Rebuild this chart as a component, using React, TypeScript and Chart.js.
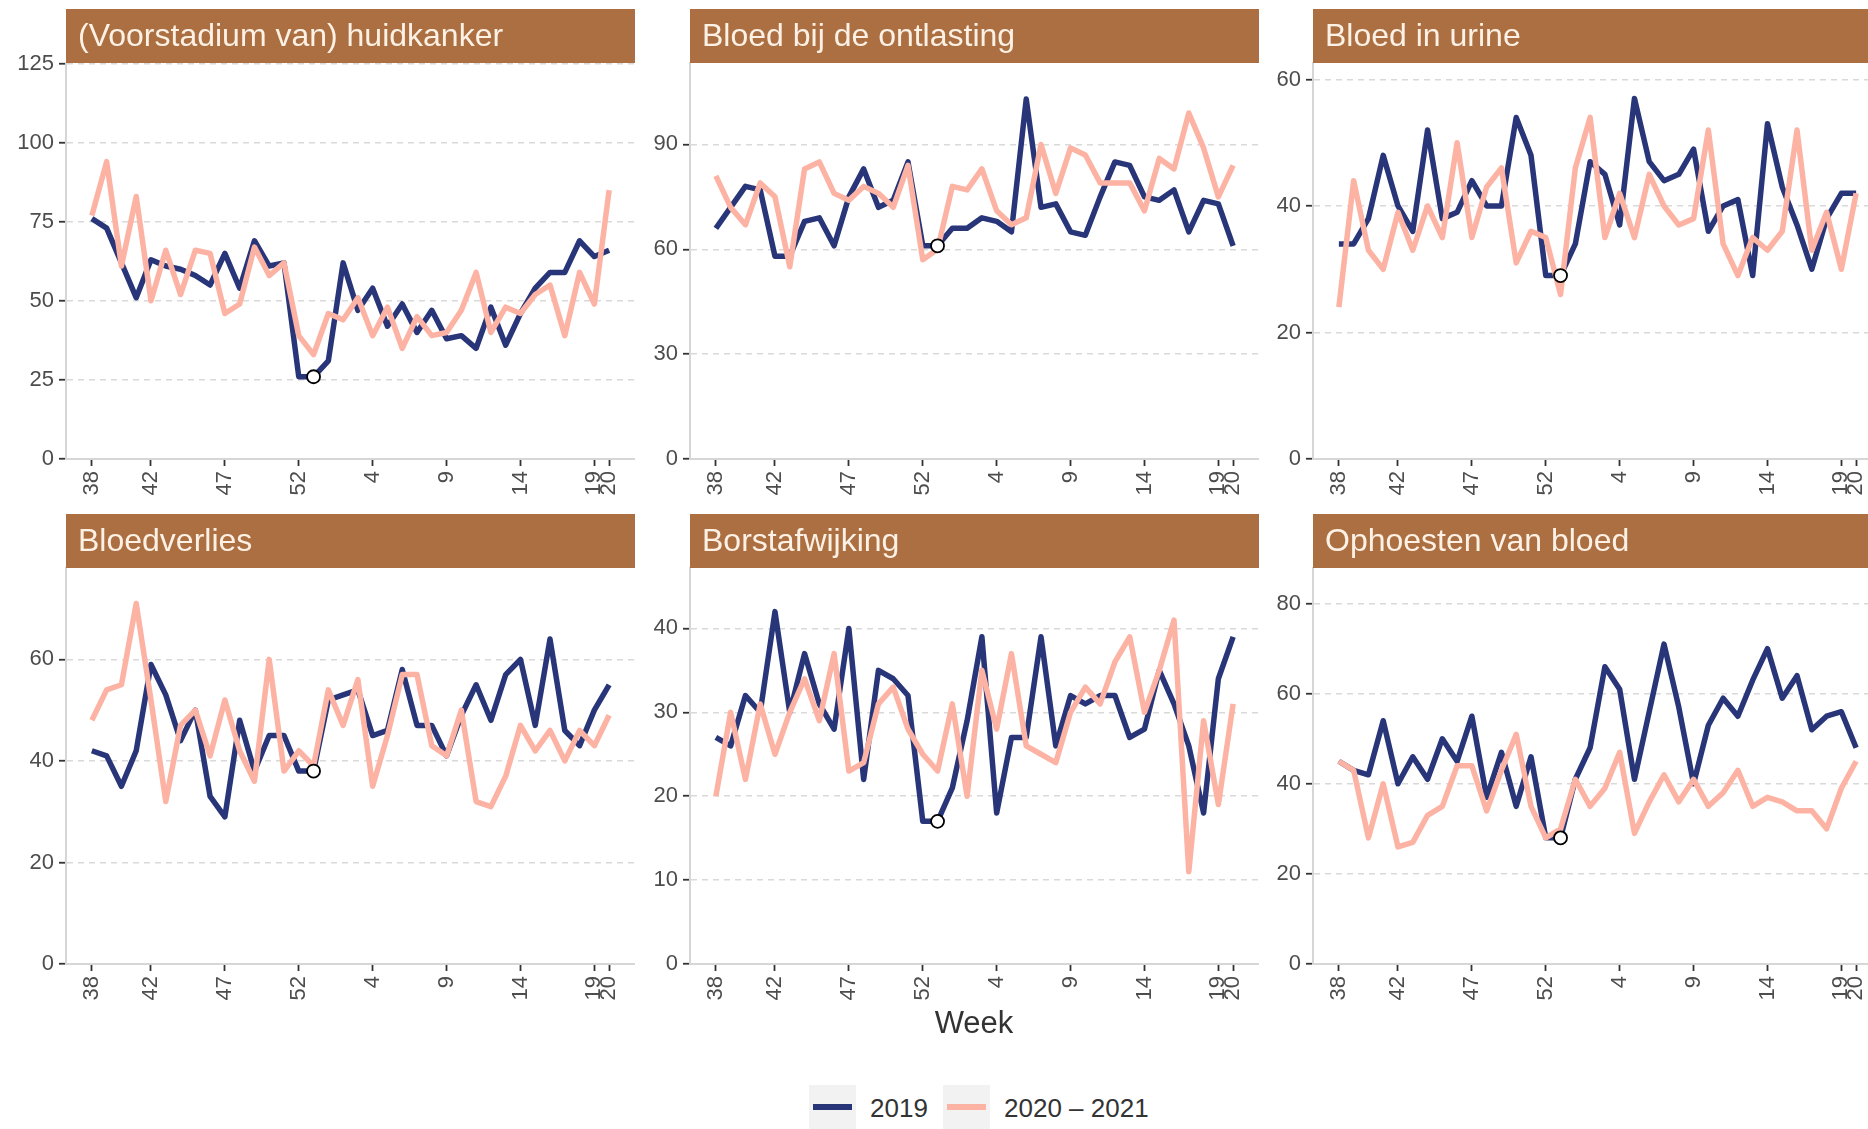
import React, { useEffect, useRef } from 'react';
import { Chart, registerables } from 'chart.js';

Chart.register(...registerables);

// week numbers on the x axis: week 38 of 2020 up to week 20 of 2021
const weeks = [38, 39, 40, 41, 42, 43, 44, 45, 46, 47, 48, 49, 50, 51, 52, 53, 1, 2, 3, 4, 5, 6, 7, 8, 9, 10, 11, 12, 13, 14, 15, 16, 17, 18, 19, 20];
const shownWeeks = [38, 42, 47, 52, 4, 9, 14, 19, 20];
const markerWeek = 53;

const seriesNames = ['2019', '2020 – 2021'];

// (Voorstadium van) huidkanker
const huidkanker2019 = [76, 73, 62, 51, 63, 61, 60, 58, 55, 65, 54, 69, 61, 62, 26, 26, 31, 62, 47, 54, 42, 49, 40, 47, 38, 39, 35, 48, 36, 46, 54, 59, 59, 69, 64, 66];
const huidkanker2020 = [77, 94, 61, 83, 50, 66, 52, 66, 65, 46, 49, 67, 58, 62, 39, 33, 46, 44, 51, 39, 48, 35, 45, 39, 40, 47, 59, 40, 48, 46, 52, 55, 39, 59, 49, 85];
const huidkankerTicks = [0, 25, 50, 75, 100, 125];

// Bloed bij de ontlasting
const ontlasting2019 = [66, 72, 78, 77, 58, 58, 68, 69, 61, 75, 83, 72, 74, 85, 61, 61, 66, 66, 69, 68, 65, 103, 72, 73, 65, 64, 75, 85, 84, 75, 74, 77, 65, 74, 73, 61];
const ontlasting2020 = [81, 72, 67, 79, 75, 55, 83, 85, 76, 74, 78, 76, 72, 84, 57, 60, 78, 77, 83, 71, 67, 69, 90, 76, 89, 87, 79, 79, 79, 71, 86, 83, 99, 89, 75, 84];
const ontlastingTicks = [0, 30, 60, 90];

// Bloed in urine
const urine2019 = [34, 34, 38, 48, 40, 36, 52, 38, 39, 44, 40, 40, 54, 48, 29, 29, 34, 47, 45, 37, 57, 47, 44, 45, 49, 36, 40, 41, 29, 53, 43, 37, 30, 38, 42, 42];
const urine2020 = [24, 44, 33, 30, 39, 33, 40, 35, 50, 35, 43, 46, 31, 36, 35, 26, 46, 54, 35, 42, 35, 45, 40, 37, 38, 52, 34, 29, 35, 33, 36, 52, 33, 39, 30, 42];
const urineTicks = [0, 20, 40, 60];

// Bloedverlies
const bloedverlies2019 = [42, 41, 35, 42, 59, 53, 44, 50, 33, 29, 48, 38, 45, 45, 38, 38, 52, 53, 54, 45, 46, 58, 47, 47, 41, 49, 55, 48, 57, 60, 47, 64, 46, 43, 50, 55];
const bloedverlies2020 = [48, 54, 55, 71, 52, 32, 47, 50, 41, 52, 42, 36, 60, 38, 42, 39, 54, 47, 56, 35, 45, 57, 57, 43, 41, 50, 32, 31, 37, 47, 42, 46, 40, 46, 43, 49];
const bloedverliesTicks = [0, 20, 40, 60];

// Borstafwijking
const borst2019 = [27, 26, 32, 30, 42, 30, 37, 31, 28, 40, 22, 35, 34, 32, 17, 17, 21, 29, 39, 18, 27, 27, 39, 26, 32, 31, 32, 32, 27, 28, 35, 31, 26, 18, 34, 39];
const borst2020 = [20, 30, 22, 31, 25, 30, 34, 29, 37, 23, 24, 31, 33, 28, 25, 23, 31, 20, 35, 28, 37, 26, 25, 24, 30, 33, 31, 36, 39, 30, 35, 41, 11, 29, 19, 31];
const borstTicks = [0, 10, 20, 30, 40];

// Ophoesten van bloed
const ophoesten2019 = [45, 43, 42, 54, 40, 46, 41, 50, 45, 55, 37, 47, 35, 46, 28, 28, 41, 48, 66, 61, 41, 56, 71, 57, 40, 53, 59, 55, 63, 70, 59, 64, 52, 55, 56, 48];
const ophoesten2020 = [45, 43, 28, 40, 26, 27, 33, 35, 44, 44, 34, 43, 51, 35, 28, 30, 41, 35, 39, 47, 29, 36, 42, 36, 41, 35, 38, 43, 35, 37, 36, 34, 34, 30, 39, 45];
const ophoestenTicks = [0, 20, 40, 60, 80];

const panels = [
  { title: '(Voorstadium van) huidkanker', a: huidkanker2019, b: huidkanker2020, ticks: huidkankerTicks, max: 125.2 },
  { title: 'Bloed bij de ontlasting', a: ontlasting2019, b: ontlasting2020, ticks: ontlastingTicks, max: 113.3 },
  { title: 'Bloed in urine', a: urine2019, b: urine2020, ticks: urineTicks, max: 62.6 },
  { title: 'Bloedverlies', a: bloedverlies2019, b: bloedverlies2020, ticks: bloedverliesTicks, max: 78 },
  { title: 'Borstafwijking', a: borst2019, b: borst2020, ticks: borstTicks, max: 47.2 },
  { title: 'Ophoesten van bloed', a: ophoesten2019, b: ophoesten2020, ticks: ophoestenTicks, max: 87.9 },
];

const FONT = '"Liberation Sans", Arial, Helvetica, sans-serif';
const BLUE = '#283679';
const PINK = '#FDB3A4';
const STRIP = '#AB6F41';

const COL_LEFT = [66, 690, 1313];
const ROW_TOP = [9, 514];
const STRIP_H = 54;
const PLOT_W = 569;
const PLOT_H = 396;
const Y_AXIS_W = 66;
const X_AXIS_H = 62;

const stripPlugin = {
  id: 'strip',
  afterDraw(chart: any) {
    const { ctx, chartArea } = chart;
    const title = chart.options.plugins.strip.title;
    ctx.save();
    ctx.fillStyle = STRIP;
    ctx.fillRect(chartArea.left, chartArea.top - STRIP_H, chartArea.right - chartArea.left, STRIP_H);
    ctx.fillStyle = '#FDF1E6';
    ctx.font = `32px ${FONT}`;
    ctx.textBaseline = 'middle';
    ctx.fillText(title, chartArea.left + 12, chartArea.top - STRIP_H / 2 + 1);
    ctx.restore();
  },
};

interface PanelProps {
  title: string;
  a: number[];
  b: number[];
  ticks: number[];
  max: number;
  left: number;
  top: number;
}

const Panel: React.FC<PanelProps> = ({ title, a, b, ticks, max, left, top }) => {
  const canvasRef = useRef<HTMLCanvasElement>(null);

  useEffect(() => {
    if (!canvasRef.current) return;
    const idx = weeks.map((_, i) => i);
    const m = weeks.indexOf(markerWeek);
    const chart = new Chart(canvasRef.current, {
      type: 'line',
      data: {
        datasets: [
          {
            label: 'marker',
            data: [{ x: m, y: a[m] }],
            showLine: false,
            pointRadius: 6.5,
            pointBackgroundColor: '#ffffff',
            pointBorderColor: '#000000',
            pointBorderWidth: 1.8,
            order: 0,
          },
          {
            label: seriesNames[1],
            data: idx.map((i) => ({ x: i, y: b[i] })),
            borderColor: PINK,
            borderWidth: 5.5,
            pointRadius: 0,
            tension: 0,
            borderJoinStyle: 'round',
            order: 1,
          },
          {
            label: seriesNames[0],
            data: idx.map((i) => ({ x: i, y: a[i] })),
            borderColor: BLUE,
            borderWidth: 5.5,
            pointRadius: 0,
            tension: 0,
            borderJoinStyle: 'round',
            order: 2,
          },
        ],
      },
      options: {
        responsive: false,
        animation: false,
        layout: { autoPadding: false, padding: { top: STRIP_H, left: 0, right: 0, bottom: 0 } },
        plugins: {
          legend: { display: false },
          tooltip: { enabled: false },
          strip: { title },
        } as any,
        scales: {
          x: {
            type: 'linear',
            min: -1.75,
            max: weeks.length - 1 + 1.75,
            afterBuildTicks: (s: any) => {
              s.ticks = shownWeeks.map((w, k) => ({ value: k === shownWeeks.length - 1 ? weeks.lastIndexOf(w) : weeks.indexOf(w) }));
            },
            afterFit: (s: any) => {
              s.height = X_AXIS_H;
              s.paddingLeft = 0;
              s.paddingRight = 0;
            },
            ticks: {
              autoSkip: false,
              minRotation: 90,
              maxRotation: 90,
              padding: 5,
              color: '#4D4D4D',
              font: { family: FONT, size: 22 },
              callback: (v: any) => String(weeks[v]),
            },
            grid: {
              drawOnChartArea: false,
              drawTicks: true,
              tickLength: 7,
              tickColor: '#333333',
              tickWidth: 1.8,
            },
            border: { color: '#D6D6D6', width: 2 },
          },
          y: {
            min: 0,
            max,
            afterBuildTicks: (s: any) => {
              s.ticks = ticks.map((v) => ({ value: v }));
            },
            afterFit: (s: any) => {
              s.width = Y_AXIS_W;
            },
            ticks: {
              padding: 5,
              color: '#4D4D4D',
              font: { family: FONT, size: 22 },
            },
            grid: {
              color: (c: any) => (c.tick && c.tick.value === 0 ? 'rgba(0,0,0,0)' : '#D9D9D9'),
              lineWidth: 1.5,
              tickLength: 7,
              tickColor: '#333333',
              tickWidth: 1.8,
            },
            border: { color: '#D6D6D6', width: 2, dash: [6, 5] },
          },
        },
      },
      plugins: [stripPlugin],
    } as any);
    return () => {
      chart.destroy();
    };
  }, [title, a, b, ticks, max]);

  const w = Y_AXIS_W + PLOT_W;
  const h = STRIP_H + PLOT_H + X_AXIS_H;
  return (
    <canvas
      ref={canvasRef}
      width={w}
      height={h}
      style={{ position: 'absolute', left, top, width: w, height: h }}
    />
  );
};

const LegendKey: React.FC<{ color: string; left: number }> = ({ color, left }) => (
  <div style={{ position: 'absolute', left, top: 1085, width: 47, height: 44, background: '#F2F2F2' }}>
    <div style={{ position: 'absolute', left: 4, right: 4, top: 19, height: 6, background: color }} />
  </div>
);

const App: React.FC = () => {
  return (
    <div
      style={{
        position: 'absolute',
        left: 0,
        top: 0,
        width: 1868,
        height: 1129,
        overflow: 'hidden',
        background: '#ffffff',
        fontFamily: FONT,
      }}
    >
      {panels.map((p, i) => (
        <Panel
          key={p.title}
          {...p}
          left={COL_LEFT[i % 3] - Y_AXIS_W}
          top={ROW_TOP[Math.floor(i / 3)]}
        />
      ))}
      <div
        style={{
          position: 'absolute',
          left: 874,
          width: 200,
          top: 1005,
          textAlign: 'center',
          fontSize: 31,
          color: '#333333',
          lineHeight: '36px',
        }}
      >
        Week
      </div>
      <LegendKey color={BLUE} left={809} />
      <div style={{ position: 'absolute', left: 870, top: 1092, fontSize: 26, lineHeight: '32px', color: '#333333' }}>
        {seriesNames[0]}
      </div>
      <LegendKey color={PINK} left={943} />
      <div style={{ position: 'absolute', left: 1004, top: 1092, fontSize: 26, lineHeight: '32px', color: '#333333' }}>
        {seriesNames[1]}
      </div>
    </div>
  );
};

export default App;
